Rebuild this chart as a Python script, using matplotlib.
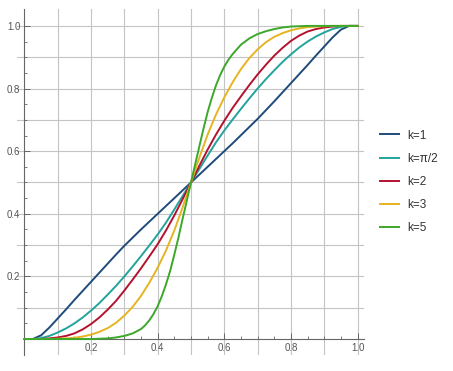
import matplotlib
matplotlib.use("Agg")
import matplotlib.pyplot as plt
import numpy as np

plt.rcParams['font.family'] = ['Liberation Sans', 'DejaVu Sans']

# x positions (step 0.025)
x_vals = [0.0, 0.025, 0.05, 0.075, 0.1, 0.125, 0.15, 0.175, 0.2, 0.225,
          0.25, 0.275, 0.3, 0.325, 0.35, 0.375, 0.4, 0.425, 0.45, 0.475,
          0.5, 0.525, 0.55, 0.575, 0.6, 0.625, 0.65, 0.675, 0.7, 0.725,
          0.75, 0.775, 0.8, 0.825, 0.85, 0.875, 0.9, 0.925, 0.95, 0.975, 1.0]

k1 = [0.0, 0.0, 0.012, 0.037, 0.066, 0.095, 0.125, 0.154, 0.183, 0.212,
      0.241, 0.27, 0.298, 0.324, 0.35, 0.375, 0.40, 0.425, 0.45, 0.475,
      0.5, 0.525, 0.55, 0.575, 0.60, 0.625, 0.651, 0.677, 0.703, 0.731,
      0.759, 0.788, 0.817, 0.846, 0.875, 0.905, 0.934, 0.963, 0.988, 1.0, 1.0]

k_pi2 = [0.0, 0.0, 0.003, 0.01, 0.021, 0.034, 0.05, 0.069, 0.091, 0.115,
         0.142, 0.17, 0.2, 0.232, 0.265, 0.299, 0.334, 0.372, 0.414, 0.457,
         0.5, 0.543, 0.586, 0.628, 0.666, 0.701, 0.735, 0.768, 0.80, 0.83,
         0.858, 0.885, 0.909, 0.931, 0.95, 0.966, 0.979, 0.99, 0.997, 1.0, 1.0]

k2 = [0.0, 0.0, 0.0, 0.002, 0.005, 0.01, 0.018, 0.031, 0.048, 0.069,
      0.094, 0.122, 0.155, 0.19, 0.226, 0.264, 0.303, 0.347, 0.395, 0.447,
      0.5, 0.553, 0.605, 0.653, 0.697, 0.738, 0.775, 0.811, 0.845, 0.876,
      0.905, 0.93, 0.952, 0.969, 0.982, 0.99, 0.995, 0.998, 1.0, 1.0, 1.0]

k3 = [0.0, 0.0, 0.0, 0.0, 0.001, 0.002, 0.004, 0.008, 0.014, 0.023,
      0.035, 0.052, 0.075, 0.103, 0.138, 0.18, 0.228, 0.283, 0.347, 0.421,
      0.5, 0.579, 0.653, 0.717, 0.772, 0.82, 0.862, 0.897, 0.925, 0.948,
      0.965, 0.977, 0.986, 0.992, 0.996, 0.998, 0.999, 1.0, 1.0, 1.0, 1.0]

# k=5 is steep in the middle, so it was read at a finer step there
x_k5 = [0.0, 0.1, 0.2, 0.225, 0.25, 0.275, 0.3, 0.325, 0.35, 0.3625,
        0.375, 0.3875, 0.4, 0.4125, 0.425, 0.4375, 0.45, 0.4625, 0.475, 0.4875,
        0.5, 0.5125, 0.525, 0.5375, 0.55, 0.5625, 0.575, 0.5875, 0.6, 0.6125,
        0.625, 0.65, 0.675, 0.7, 0.725, 0.75, 0.775, 0.8, 0.825, 0.85, 1.0]
k5 = [0.0, 0.0, 0.0, 0.001, 0.002, 0.005, 0.01, 0.018, 0.032, 0.044,
      0.06, 0.08, 0.105, 0.137, 0.175, 0.218, 0.27, 0.325, 0.385, 0.442,
      0.5, 0.558, 0.615, 0.672, 0.725, 0.77, 0.81, 0.843, 0.87, 0.892,
      0.91, 0.94, 0.96, 0.974, 0.983, 0.99, 0.995, 0.998, 0.999, 1.0, 1.0]

labels = ["k=1", "k=π/2", "k=2", "k=3", "k=5"]
colors = ["#1f4b7b", "#22a39b", "#b3122f", "#e6b422", "#3ca82a"]

fig = plt.figure(figsize=(4.53, 3.71), dpi=100)
ax = fig.add_axes([17 / 453, 1 - 355 / 371, (364 - 17) / 453, (355 - 9) / 371])
ax.set_xlim(-0.0225, 1.0195)
ax.set_ylim(-0.051, 1.054)

# light grid every 0.1
for g in np.arange(0.1, 1.01, 0.1):
    ax.axvline(g, color="#c4c4c4", lw=0.8, zorder=0)
    ax.axhline(g, color="#c4c4c4", lw=0.8, zorder=0)

series = [(x_vals, k1), (x_vals, k_pi2), (x_vals, k2), (x_vals, k3), (x_k5, k5)]
for (xs, ys), lab, c in zip(series, labels, colors):
    ax.plot(xs, ys, color=c, lw=1.4, label=lab, zorder=3,
            solid_joinstyle="round")

for s in ["top", "right"]:
    ax.spines[s].set_visible(False)
ax.spines["left"].set_position(("data", 0))
ax.spines["bottom"].set_position(("data", 0))
ax.spines["bottom"].set_bounds(0, 1.0195)
for s in ["left", "bottom"]:
    ax.spines[s].set_color("#666666")
    ax.spines[s].set_linewidth(0.8)

ax.set_xticks([0.2, 0.4, 0.6, 0.8, 1.0])
ax.set_xticklabels(["0.2", "0.4", "0.6", "0.8", "1.0"])
ax.set_yticks([0.2, 0.4, 0.6, 0.8, 1.0])
ax.set_yticklabels(["0.2", "0.4", "0.6", "0.8", "1.0"])
ax.set_xticks(np.arange(0.05, 1.01, 0.05), minor=True)
ax.set_yticks(np.arange(0.05, 1.01, 0.05), minor=True)
ax.tick_params(which="major", direction="in", length=4, width=0.7,
               color="#666666", labelcolor="#555555", labelsize=7, pad=3)
ax.tick_params(which="minor", direction="in", length=2.2, width=0.6,
               color="#666666")

ax.legend(loc="center left", bbox_to_anchor=(380 / 453, 1 - 182 / 371),
          bbox_transform=fig.transFigure, frameon=False, fontsize=8.5,
          handlelength=1.6, handletextpad=0.75, labelspacing=0.95,
          borderpad=0, borderaxespad=0, labelcolor="#333333")

fig.savefig("out.png", dpi=100)
